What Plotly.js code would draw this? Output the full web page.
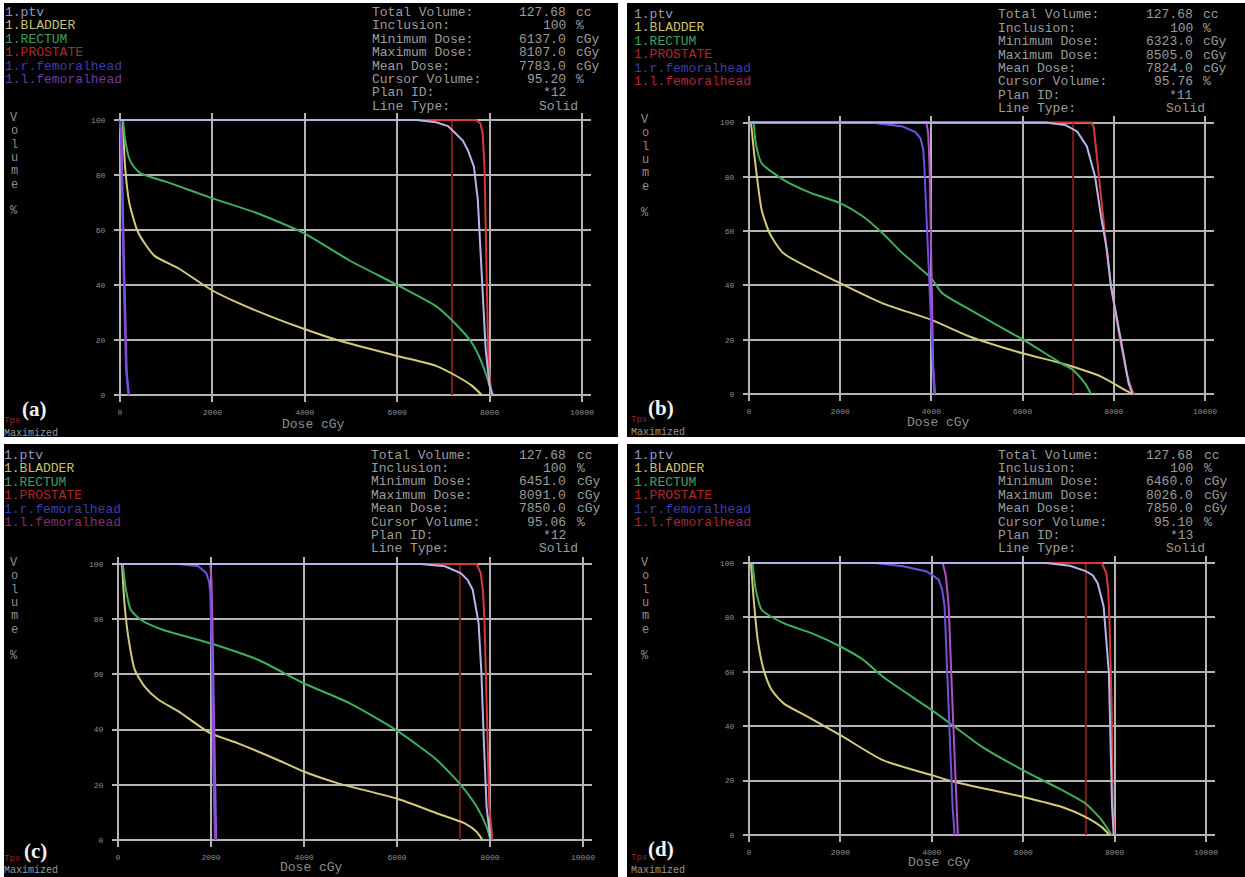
<!DOCTYPE html>
<html><head><meta charset="utf-8">
<script src="https://cdn.plot.ly/plotly-3.0.1.min.js"></script>
<style>html,body{margin:0;padding:0;background:#fff;}#chart{width:1245px;height:877px;}</style>
</head><body><div id="chart"></div>
<script>
// ---------- categories / text ----------
const structures = ['1.ptv','1.BLADDER','1.RECTUM','1.PROSTATE','1.r.femoralhead','1.l.femoralhead'];
const panelLabels = ['(a)','(b)','(c)','(d)'];
const infoLabels = ['Total Volume:','Inclusion:','Minimum Dose:','Maximum Dose:','Mean Dose:','Cursor Volume:','Plan ID:','Line Type:'];
const infoUnits = ['cc','%','cGy','cGy','cGy','%','',''];
const infoValues_a = ['127.68','100','6137.0','8107.0','7783.0','95.20','*12','Solid'];
const infoValues_b = ['127.68','100','6323.0','8505.0','7824.0','95.76','*11','Solid'];
const infoValues_c = ['127.68','100','6451.0','8091.0','7850.0','95.06','*12','Solid'];
const infoValues_d = ['127.68','100','6460.0','8026.0','7850.0','95.10','*13','Solid'];
const volumeLetters = ['V','o','l','u','m','e','','%'];
const xTitle = 'Dose cGy';
const xTicks = [0,2000,4000,6000,8000,10000];
const yTicks = [0,20,40,60,80,100];
const cursorDose = [7187, 7108, 7353, 7370];
const cursorVol = [0, 100];

// ---------- panel (a) ----------
const a_ptv_dose = [0, 6415, 6840, 7100, 7270, 7420, 7530, 7660, 7745, 7805, 7855, 7915, 8000, 8070];
const a_ptv_vol  = [100, 100, 99.2, 97.8, 95, 92.5, 89, 83, 71, 53, 35, 16.6, 3.4, 0];
const a_bladder_dose = [60, 110, 200, 370, 540, 755, 1270, 2000, 2555, 3240, 3990, 4700, 6000, 6840, 7270, 7615, 7830];
const a_bladder_vol  = [100, 83, 70, 60, 55, 50.5, 46, 38, 33.5, 28.7, 24, 20, 14.2, 10.6, 7, 3.4, 0];
const a_rectum_dose = [65, 110, 200, 300, 455, 1010, 2000, 2985, 3990, 4960, 6000, 6840, 7270, 7615, 7830, 8000, 8045];
const a_rectum_vol  = [100, 93, 86, 83, 80.5, 77.5, 71.5, 66, 58.8, 49, 40, 32.3, 25.7, 19, 11.8, 3.4, 0];
const a_prostate_dose = [0, 7700, 7800, 7850, 7890, 7940, 7975, 8045];
const a_prostate_vol  = [100, 100, 98.8, 95, 83, 47, 10.6, 0];
const a_rfem_dose = [0, 20, 70, 130, 180];
const a_rfem_vol  = [100, 95, 50, 10, 0];
const a_lfem_dose = [0, 30, 85, 145, 195];
const a_lfem_vol  = [100, 95, 50, 8, 0];

// ---------- panel (b) ----------
const b_ptv_dose = [0, 6500, 6935, 7195, 7410, 7590, 7720, 7850, 7935, 8065, 8195, 8325, 8410];
const b_ptv_vol  = [100, 100, 99.1, 96.7, 91.2, 80, 65.4, 53, 40, 28.5, 16.2, 3.9, 0];
const b_bladder_dose = [43, 104, 174, 278, 452, 757, 2000, 2930, 4000, 4850, 6000, 6850, 7720, 8240, 8410];
const b_bladder_vol  = [100, 90, 80, 67.8, 59.2, 51.8, 40.8, 33.4, 27.3, 21.1, 15, 11.3, 6.4, 1.5, 0];
const b_rectum_dose = [104, 148, 278, 757, 1366, 2000, 2500, 2930, 3370, 4000, 4240, 4850, 6000, 6850, 7110, 7370, 7500];
const b_rectum_vol  = [100, 92.4, 85, 78.9, 74, 70.3, 65.4, 59.2, 51.8, 42.6, 37.1, 31, 20.1, 11.3, 8.8, 3.9, 0];
const b_prostate_dose = [0, 7500, 7560, 7590, 7720, 7850, 7935, 8110, 8280, 8410, 8455];
const b_prostate_vol  = [100, 100, 98.5, 93.6, 71.5, 51.8, 40, 22.4, 7.6, 0.9, 0];
const b_rfem_dose = [0, 2670, 3370, 3650, 3760, 3820, 3845, 3906, 3960, 4020, 4060];
const b_rfem_vol  = [100, 100, 98.5, 96.5, 94.2, 90, 83.8, 59.2, 34.6, 10, 0];
const b_lfem_dose = [0, 3890, 3930, 3960, 4000, 4040, 4080];
const b_lfem_vol  = [100, 100, 96, 83.8, 47, 10, 0];

// ---------- panel (c) ----------
const c_ptv_dose = [0, 6515, 7030, 7370, 7520, 7627, 7755, 7815, 7866, 7926, 8010];
const c_ptv_vol  = [100, 100, 99.2, 96.7, 94.2, 90.7, 78.6, 60.5, 36.3, 12.1, 0];
const c_bladder_dose = [85, 145, 230, 360, 573, 872, 1300, 1984, 2582, 3437, 3993, 4720, 5976, 6857, 7456, 7712, 7840];
const c_bladder_vol  = [100, 84.6, 72.6, 61.7, 55.6, 50.8, 46.6, 38.7, 35, 29, 24.8, 20.6, 15.1, 9.7, 6, 3, 0];
const c_rectum_dose = [103, 171, 274, 487, 958, 1984, 3010, 3993, 4976, 5976, 6857, 7370, 7712, 7926, 8010];
const c_rectum_vol  = [100, 90.7, 83.4, 79.8, 76.2, 71.3, 65.3, 56.8, 49.6, 39.9, 29, 20, 12.1, 4.8, 0];
const c_prostate_dose = [0, 7712, 7800, 7850, 7883, 7926, 7985, 8054];
const c_prostate_vol  = [100, 100, 96.7, 90, 78.6, 48.4, 12.1, 0];
const c_rfem_dose = [0, 1300, 1727, 1898, 1960, 1984, 2026, 2052, 2086];
const c_rfem_vol  = [100, 100, 99.2, 96.7, 93.5, 89.5, 60.5, 24.3, 0];
const c_lfem_dose = [0, 1984, 2010, 2030, 2070, 2112];
const c_lfem_vol  = [100, 100, 94, 80, 40, 0];

// ---------- panel (d) ----------
const d_ptv_dose = [0, 6500, 7020, 7370, 7520, 7630, 7760, 7820, 7875, 7910, 7945, 7980];
const d_ptv_vol  = [100, 100, 99, 97, 95.5, 92.6, 84, 71.7, 59.5, 34.9, 10.3, 0];
const d_bladder_dose = [43, 104, 191, 322, 496, 757, 1280, 2000, 2930, 4000, 4500, 6000, 6850, 7370, 7720, 7890];
const d_bladder_vol  = [100, 86.5, 71.7, 60.7, 53.3, 48.4, 43.5, 36.7, 27.5, 22, 19.5, 14, 10.3, 6.6, 2.9, 0];
const d_rectum_dose = [78, 148, 278, 757, 1366, 2000, 2500, 2930, 4000, 4500, 5100, 6000, 6850, 7370, 7720, 7935];
const d_rectum_vol  = [100, 90.2, 82.8, 77.9, 74.2, 69.3, 64.4, 58.2, 45.9, 39.8, 32.4, 23.8, 16.5, 11.5, 5.4, 0];
const d_prostate_dose = [0, 7720, 7820, 7860, 7890, 7935, 7960, 7995];
const d_prostate_vol  = [100, 100, 96.3, 90, 77.9, 47.2, 10.3, 0];
const d_rfem_dose = [0, 2760, 3370, 3890, 4150, 4230, 4280, 4340, 4395, 4455, 4500];
const d_rfem_vol  = [100, 100, 98.8, 96.9, 93.9, 90, 84, 59.5, 34.9, 10.3, 0];
const d_lfem_dose = [0, 4240, 4310, 4370, 4455, 4570];
const d_lfem_vol  = [100, 100, 95, 84, 47, 0];

// ---------- layout / styling (pixel geometry of the screenshots) ----------
const W = 1245, H = 877;
const MONO = '"Liberation Mono", "DejaVu Sans Mono", monospace';
const lineColors = {ptv:'#b6b6ea', bladder:'#d4ca7a', rectum:'#3fae5e', prostate:'#d43a3a', rfem:'#6e50e2', lfem:'#b44ec8', cursor:'#7a1c1c'};
const splineKeys = {bladder:true, rectum:true};
const legendColors = [
  ['#9a98c0','#c8c070','#40a060','#b02828','#3c3cb4','#6e3aa0'],
  ['#9a98c0','#c8c070','#40a060','#b02828','#3c3cb4','#b02838'],
  ['#9a98c0','#c8c070','#40a060','#b02828','#3c3cb4','#8a2c70'],
  ['#9a98c0','#c8c070','#40a060','#b02828','#3c3cb4','#a8283c']
];
const panelsGeom = [
  {rect:[4,3,618,437],   x0:120, x1:582,  y100:120,   y0:395, legX:4,   legY:12,  infoX:371, valR:567,  unitX:575,  infoY:12.5, volX:14,  volY:118, dose:[313,424], tag:[34,409], tps:[3,421],   maxm:[3,433]},
  {rect:[627,3,1245,437],x0:749, x1:1205, y100:122.5, y0:394, legX:633, legY:14,  infoX:997, valR:1194, unitX:1202, infoY:15,   volX:645, volY:120, dose:[938,422], tag:[661,408],tps:[630,420], maxm:[630,432]},
  {rect:[4,444,618,877], x0:118, x1:583,  y100:564,   y0:840, legX:3,   legY:455, infoX:370, valR:567,  unitX:576,  infoY:455,  volX:14,  volY:563, dose:[311,867], tag:[35,851], tps:[3,859],   maxm:[3,870]},
  {rect:[627,444,1245,877],x0:749,x1:1206, y100:563,   y0:835, legX:633, legY:455, infoX:997, valR:1194, unitX:1203, infoY:455,  volX:645, volY:563, dose:[939,862], tag:[661,849],tps:[630,858], maxm:[630,870]}
];
const panelData = [
  {ptv:[a_ptv_dose,a_ptv_vol], bladder:[a_bladder_dose,a_bladder_vol], rectum:[a_rectum_dose,a_rectum_vol], prostate:[a_prostate_dose,a_prostate_vol], rfem:[a_rfem_dose,a_rfem_vol], lfem:[a_lfem_dose,a_lfem_vol], info:infoValues_a},
  {ptv:[b_ptv_dose,b_ptv_vol], bladder:[b_bladder_dose,b_bladder_vol], rectum:[b_rectum_dose,b_rectum_vol], prostate:[b_prostate_dose,b_prostate_vol], rfem:[b_rfem_dose,b_rfem_vol], lfem:[b_lfem_dose,b_lfem_vol], info:infoValues_b},
  {ptv:[c_ptv_dose,c_ptv_vol], bladder:[c_bladder_dose,c_bladder_vol], rectum:[c_rectum_dose,c_rectum_vol], prostate:[c_prostate_dose,c_prostate_vol], rfem:[c_rfem_dose,c_rfem_vol], lfem:[c_lfem_dose,c_lfem_vol], info:infoValues_c},
  {ptv:[d_ptv_dose,d_ptv_vol], bladder:[d_bladder_dose,d_bladder_vol], rectum:[d_rectum_dose,d_rectum_vol], prostate:[d_prostate_dose,d_prostate_vol], rfem:[d_rfem_dose,d_rfem_vol], lfem:[d_lfem_dose,d_lfem_vol], info:infoValues_d}
];

const PX = px => px / W;
const PY = py => 1 - py / H;
const traces = [];
const layout = {
  width: W, height: H, margin:{l:0,r:0,t:0,b:0},
  paper_bgcolor:'#ffffff', plot_bgcolor:'#000000',
  showlegend:false, shapes:[], annotations:[]
};
function ann(px, py, text, color, size, xanchor, font) {
  layout.annotations.push({xref:'paper', yref:'paper', x:PX(px), y:PY(py), text:text, showarrow:false,
    xanchor:xanchor||'left', yanchor:'middle', borderpad:0,
    font:{family:font||MONO, size:size, color:color}});
}
const order = ['cursor','prostate','bladder','rectum','lfem','rfem','ptv'];
panelsGeom.forEach((g, i) => {
  const n = i === 0 ? '' : String(i + 1);
  const d = panelData[i];
  const r = g.rect;
  layout.shapes.push({type:'rect', xref:'paper', yref:'paper', x0:PX(r[0]), x1:PX(r[2]), y0:PY(r[3]), y1:PY(r[1]),
    fillcolor:'#000000', line:{width:0}, layer:'below'});
  const pxX = (g.x1 - g.x0) / 10000, pxY = (g.y0 - g.y100) / 100;
  const padL = 6, padR = 9, padT = 7, padB = 7;
  const tickfont = {family:MONO, size:8, color:'#8e8e8e'};
  layout['xaxis' + n] = {domain:[PX(g.x0 - padL), PX(g.x1 + padR)], range:[-padL / pxX, 10000 + padR / pxX],
    anchor:'y' + n, tickmode:'array', tickvals:xTicks, ticktext:xTicks.map(String), tickfont:tickfont,
    showgrid:true, gridcolor:'#b4b4b4', gridwidth:2, zeroline:false, showline:false,
    ticks:'outside', ticklen:2, tickcolor:'rgba(0,0,0,0)', fixedrange:true};
  layout['yaxis' + n] = {domain:[PY(g.y0 + padB), PY(g.y100 - padT)], range:[-padB / pxY, 100 + padT / pxY],
    anchor:'x' + n, tickmode:'array', tickvals:yTicks, ticktext:yTicks.map(String), tickfont:tickfont,
    showgrid:true, gridcolor:'#b4b4b4', gridwidth:2, zeroline:false, showline:false,
    ticks:'outside', ticklen:6, tickcolor:'rgba(0,0,0,0)', fixedrange:true};
  order.forEach(key => {
    let xs, ys;
    if (key === 'cursor') { xs = [cursorDose[i], cursorDose[i]]; ys = cursorVol; }
    else { xs = d[key][0]; ys = d[key][1]; }
    traces.push({type:'scatter', mode:'lines', x:xs, y:ys, xaxis:'x' + n, yaxis:'y' + n,
      line:{color:lineColors[key], width:2, shape: splineKeys[key] ? 'spline' : 'linear', smoothing:0.6},
      hoverinfo:'skip'});
  });
  // legend text (top-left)
  structures.forEach((s, k) => ann(g.legX, g.legY + k * 13.5, s, legendColors[i][k], 13, 'left'));
  // info block (top-right)
  infoLabels.forEach((lab, k) => {
    const y = g.infoY + k * 13.4;
    ann(g.infoX, y, lab, '#9c9c9c', 13, 'left');
    const shift = d.info[k] === 'Solid' ? 12 : 0;
    ann(g.valR + shift, y, d.info[k], '#9c9c9c', 13, 'right');
    if (infoUnits[k]) ann(g.unitX, y, infoUnits[k], '#9c9c9c', 13, 'left');
  });
  // vertical "Volume %"
  volumeLetters.forEach((ch, k) => { if (ch) ann(g.volX, g.volY + k * 13.3, ch, '#8e8e8e', 12, 'center'); });
  ann(g.dose[0], g.dose[1], xTitle, '#8e8e8e', 13, 'center');
  ann(g.tps[0], g.tps[1], 'Tps', '#a02020', 9, 'left');
  ann(g.maxm[0], g.maxm[1], 'Maximized', '#9a9a9a', 10, 'left');
  ann(g.tag[0], g.tag[1], '<b>' + panelLabels[i] + '</b>', '#f2f2f2', 21, 'center', '"Liberation Serif", "DejaVu Serif", serif');
});
Plotly.newPlot('chart', traces, layout, {staticPlot:true});
</script>
</body></html>
